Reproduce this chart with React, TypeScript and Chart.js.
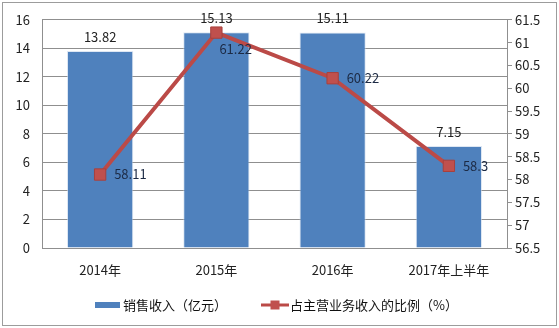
import React, { useEffect, useRef } from 'react';
import { Chart, registerables } from 'chart.js';

Chart.register(...registerables);

const categories = ['2014年', '2015年', '2016年', '2017年上半年'];
const salesRevenue = [13.82, 15.13, 15.11, 7.15];
const shareOfMain = [58.11, 61.22, 60.22, 58.3];
const seriesNames = ['销售收入（亿元）', '占主营业务收入的比例（%）'];
const leftAxis = { min: 0, max: 16, step: 2 };
const rightAxis = { min: 56.5, max: 61.5, step: 0.5 };

const FONT = '"Noto Sans CJK SC", "DejaVu Sans", sans-serif';
const BAR_COLOR = '#4F81BD';
const LINE_COLOR = '#BB4A47';
const GRID = '#8f8f8f';

const framePlugin = {
  id: 'frame',
  beforeDraw(chart: any) {
    const { ctx, width, height } = chart;
    ctx.save();
    ctx.fillStyle = '#ffffff';
    ctx.fillRect(0, 0, width, height);
    ctx.strokeStyle = '#9c9c9c';
    ctx.lineWidth = 1;
    ctx.strokeRect(2.5, 2.5, width - 5, height - 5);
    ctx.restore();
  },
};

const labelPlugin = {
  id: 'valueLabels',
  afterDatasetsDraw(chart: any) {
    const { ctx } = chart;
    ctx.save();
    ctx.font = `13px ${FONT}`;
    const barMeta = chart.getDatasetMeta(0);
    ctx.fillStyle = '#222222';
    ctx.textAlign = 'center';
    ctx.textBaseline = 'middle';
    barMeta.data.forEach((el: any, i: number) => {
      ctx.fillText(String(chart.data.datasets[0].data[i]), el.x, el.y - 14);
    });
    const lineMeta = chart.getDatasetMeta(1);
    ctx.fillStyle = '#1c2a44';
    ctx.textAlign = 'left';
    lineMeta.data.forEach((el: any, i: number) => {
      const v = chart.data.datasets[1].data[i];
      const isMax = v === Math.max(...chart.data.datasets[1].data);
      const dx = isMax ? 3 : 14;
      const dy = isMax ? 16 : 0;
      ctx.fillText(String(v), el.x + dx, el.y + dy);
    });
    ctx.restore();
  },
};

const legendPlugin = {
  id: 'customLegend',
  afterDraw(chart: any) {
    const { ctx, width } = chart;
    ctx.save();
    ctx.font = `13px ${FONT}`;
    const t1 = chart.data.datasets[0].label;
    const t2 = chart.data.datasets[1].label;
    const w1 = ctx.measureText(t1).width;
    const w2 = ctx.measureText(t2).width;
    const total = 25 + 3 + w1 + 34 + 28 + 1 + w2;
    let x = Math.round(width / 2 - total / 2) - 3;
    const y = 305;
    ctx.fillStyle = BAR_COLOR;
    ctx.fillRect(x, y - 3, 25, 6);
    x += 28;
    ctx.fillStyle = '#111111';
    ctx.textAlign = 'left';
    ctx.textBaseline = 'middle';
    ctx.fillText(t1, x, y);
    x += w1 + 34;
    ctx.strokeStyle = LINE_COLOR;
    ctx.lineWidth = 3;
    ctx.beginPath();
    ctx.moveTo(x, y);
    ctx.lineTo(x + 28, y);
    ctx.stroke();
    ctx.fillStyle = '#C0504D';
    ctx.fillRect(x + 14 - 4.5, y - 4.5, 9, 9);
    x += 29;
    ctx.fillStyle = '#111111';
    ctx.fillText(t2, x, y);
    ctx.restore();
  },
};

const fmt = (v: any) => String(Number(Number(v).toFixed(2)));

export default function App() {
  const ref = useRef<HTMLCanvasElement | null>(null);

  useEffect(() => {
    if (!ref.current) return;
    const chart = new Chart(ref.current, {
      type: 'bar',
      data: {
        labels: categories,
        datasets: [
          {
            type: 'bar',
            label: seriesNames[0],
            data: salesRevenue,
            backgroundColor: BAR_COLOR,
            borderColor: 'rgba(200,215,235,0.6)',
            borderWidth: 1,
            barPercentage: 0.57,
            categoryPercentage: 1,
            yAxisID: 'y',
            order: 2,
          },
          {
            type: 'line',
            label: seriesNames[1],
            data: shareOfMain,
            borderColor: LINE_COLOR,
            borderWidth: 4,
            backgroundColor: '#C0504D',
            pointBackgroundColor: '#C0504D',
            pointBorderColor: '#A8403D',
            pointBorderWidth: 1,
            pointStyle: 'rect',
            pointRadius: 8,
            tension: 0,
            yAxisID: 'y1',
            order: 1,
          } as any,
        ],
      },
      options: {
        responsive: false,
        animation: false,
        layout: { padding: { top: 16, left: 0, right: 0, bottom: 0 } },
        plugins: {
          legend: { display: false },
          tooltip: { enabled: false },
        },
        scales: {
          x: {
            grid: { display: false, drawTicks: false },
            border: { display: true, color: GRID },
            ticks: { font: { family: FONT, size: 13 }, color: '#222222', padding: 14 },
            afterFit: (s: any) => { s.height = 80; },
          },
          y: {
            position: 'left',
            min: leftAxis.min,
            max: leftAxis.max,
            ticks: { stepSize: leftAxis.step, font: { family: FONT, size: 13 }, color: '#222222', padding: 12, callback: fmt },
            grid: { color: GRID, drawTicks: false },
            border: { display: true, color: GRID },
            afterFit: (s: any) => { s.width = 42; },
          },
          y1: {
            position: 'right',
            min: rightAxis.min,
            max: rightAxis.max,
            ticks: { stepSize: rightAxis.step, font: { family: FONT, size: 13 }, color: '#222222', padding: 3, callback: fmt },
            grid: { drawOnChartArea: false, drawTicks: true, tickLength: 5, color: GRID },
            border: { display: true, color: GRID },
            afterFit: (s: any) => { s.width = 52; },
          },
        },
      } as any,
      plugins: [framePlugin, labelPlugin, legendPlugin],
    });
    return () => chart.destroy();
  }, []);

  return (
    <div style={{ position: 'absolute', left: 0, top: 0, width: 559, height: 328 }}>
      <canvas ref={ref} width={559} height={328} style={{ display: 'block' }} />
    </div>
  );
}
